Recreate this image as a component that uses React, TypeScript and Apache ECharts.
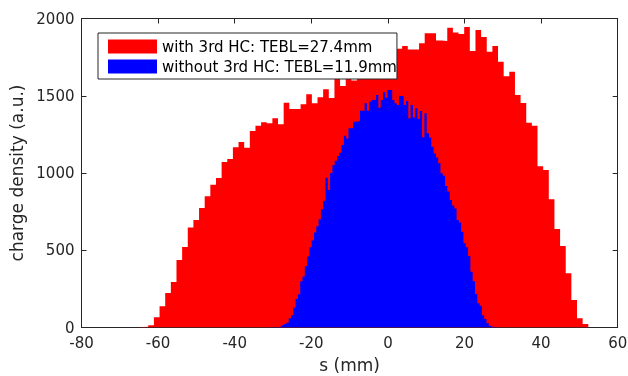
import React, { useEffect, useRef } from 'react';
import * as echarts from 'echarts';

// Histogram with 3rd harmonic cavity: 80 bins
const redBinStart = -65.51; // mm
const redBinWidth = 1.4729; // mm
const redValues = [
  3, 5, 15, 66, 137, 223, 294, 437, 521, 648,
  696, 773, 849, 924, 968, 1071, 1091, 1166, 1200, 1164,
  1272, 1306, 1328, 1322, 1354, 1315, 1455, 1414, 1414, 1445,
  1509, 1451, 1490, 1542, 1485, 1660, 1563, 1640, 1598, 1650,
  1690, 1680, 1720, 1700, 1750, 1770, 1805, 1822, 1800, 1800,
  1840, 1904, 1904, 1858, 1854, 1940, 1910, 1900, 1945, 1790,
  1925, 1880, 1785, 1822, 1720, 1626, 1656, 1505, 1453, 1326,
  1306, 1043, 1019, 830, 637, 527, 351, 178, 60, 23,
];

// Histogram without 3rd harmonic cavity: 100 bins
const blueBinStart = -31.31; // mm
const blueBinWidth = 0.6005; // mm
const blueValues = [
  1, 1, 2, 3, 4, 7, 14, 22, 30, 60,
  80, 130, 185, 215, 300, 330, 398, 460, 520, 565,
  615, 655, 700, 765, 820, 970, 890, 1000, 1050, 1080,
  1110, 1131, 1181, 1241, 1224, 1289, 1290, 1332, 1332, 1336,
  1403, 1403, 1451, 1403, 1462, 1472, 1472, 1505, 1423, 1472,
  1522, 1487, 1537, 1537, 1472, 1451, 1440, 1498, 1498, 1440,
  1466, 1354, 1440, 1360, 1419, 1350, 1401, 1231, 1386, 1257,
  1230, 1170, 1127, 1100, 1063, 998, 982, 916, 880, 825,
  790, 771, 696, 680, 620, 545, 519, 463, 361, 300,
  217, 157, 141, 79, 55, 27, 12, 5, 4, 1,
];

const seriesNames = ['with 3rd HC: TEBL=27.4mm', 'without 3rd HC: TEBL=11.9mm'];
const xMin = -80, xMax = 60, xStep = 20;
const yMin = 0, yMax = 2000, yStep = 500;
const xName = 's (mm)';
const yName = 'charge density (a.u.)';

// Outline of a histogram as a closed step polygon: [edge, value] points
const toOutline = (start: number, width: number, values: number[]) => {
  const pts: number[][] = [[start, 0]];
  values.forEach((v, i) => {
    pts.push([start + i * width, v]);
    pts.push([start + (i + 1) * width, v]);
  });
  pts.push([start + values.length * width, 0]);
  return pts;
};

const FONT = 'DejaVu Sans';
const AXIS_COLOR = '#262626';

export default function App() {
  const ref = useRef<HTMLDivElement>(null);
  useEffect(() => {
    const chart = echarts.init(ref.current!, null, { renderer: 'svg' });
    const axisCommon = {
      axisLine: { show: true, onZero: false, lineStyle: { color: AXIS_COLOR, width: 1 } },
      axisTick: { show: true, inside: true, length: 5, lineStyle: { color: AXIS_COLOR } },
      splitLine: { show: false },
    };
    const histSeries = (name: string, color: string, data: number[][], z: number) => ({
      name,
      type: 'line',
      xAxisIndex: 0,
      yAxisIndex: 0,
      data,
      showSymbol: false,
      symbol: 'none',
      itemStyle: { color },
      lineStyle: { width: 0, color },
      areaStyle: { color, opacity: 1, origin: 'start' },
      z,
    });
    chart.setOption({
      animation: false,
      textStyle: { fontFamily: FONT },
      grid: { left: 81.5, right: 10.3, top: 18.5, bottom: 48.5, containLabel: false, outerBoundsMode: 'none' },
      legend: {
        data: seriesNames.map((n) => ({ name: n, icon: 'rect' })),
        orient: 'vertical',
        left: 98,
        top: 33,
        itemWidth: 49,
        itemHeight: 14,
        itemGap: 5,
        padding: [6, 0, 5, 10],
        borderColor: AXIS_COLOR,
        borderWidth: 1,
        backgroundColor: '#ffffff',
        selectedMode: false,
        textStyle: { fontSize: 15, color: '#000', fontFamily: FONT, lineHeight: 14 },
      },
      xAxis: [
        {
          type: 'value', min: xMin, max: xMax, interval: xStep, position: 'bottom',
          ...axisCommon,
          axisLabel: { color: AXIS_COLOR, fontSize: 15, lineHeight: 15, margin: 8, fontFamily: FONT, formatter: (v: number) => String(v) },
          name: xName, nameLocation: 'middle', nameGap: 29,
          nameTextStyle: { color: AXIS_COLOR, fontSize: 17, fontFamily: FONT },
        },
        {
          type: 'value', min: xMin, max: xMax, interval: xStep, position: 'top',
          ...axisCommon, axisLabel: { show: false },
        },
      ],
      yAxis: [
        {
          type: 'value', min: yMin, max: yMax, interval: yStep, position: 'left',
          ...axisCommon,
          axisLabel: { color: AXIS_COLOR, fontSize: 15, lineHeight: 15, margin: 7, fontFamily: FONT, formatter: (v: number) => String(v) },
          name: yName, nameLocation: 'middle', nameGap: 51,
          nameTextStyle: { color: AXIS_COLOR, fontSize: 17, fontFamily: FONT },
        },
        {
          type: 'value', min: yMin, max: yMax, interval: yStep, position: 'right',
          ...axisCommon, axisLabel: { show: false },
        },
      ],
      series: [
        histSeries(seriesNames[0], '#ff0000', toOutline(redBinStart, redBinWidth, redValues), 2),
        histSeries(seriesNames[1], '#0000ff', toOutline(blueBinStart, blueBinWidth, blueValues), 3),
      ],
    });
    return () => chart.dispose();
  }, []);
  return <div ref={ref} style={{ position: 'fixed', left: 0, top: 0, width: 628, height: 376 }} />;
}
